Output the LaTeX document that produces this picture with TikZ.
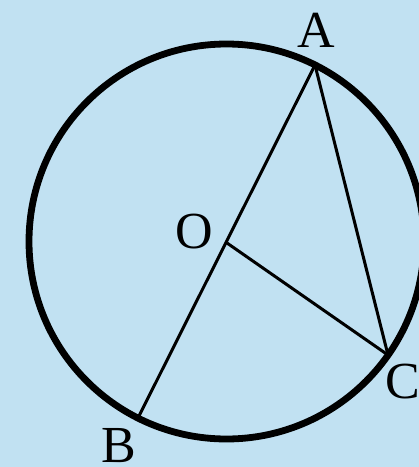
\documentclass[tikz,border=0pt]{standalone}
\usepackage{fontspec}
\setmainfont{Liberation Serif}
\definecolor{bgblue}{RGB}{193,225,242}
\begin{document}
\begin{tikzpicture}[x=1pt,y=-1pt,
  chord/.style={line width=3pt,black},
  rim/.style={line width=6.8pt,black},
  lbl/.style={font=\fontsize{52}{52}\selectfont,inner sep=0pt}]
\fill[bgblue] (0,0) rectangle (419,467);
\useasboundingbox (0,0) rectangle (419,467);
\coordinate (Oc) at (226.5,241.5);
\coordinate (A) at (315,65);
\coordinate (B) at (138,418);
\coordinate (C) at (388,355);
\coordinate (O) at (227,243);
\draw[rim] (Oc) circle[radius=197.5];
\draw[chord] (A) -- (B);
\draw[chord] (A) -- (C);
\draw[chord] (O) -- (C);
\node[lbl] (lA) at (316,30) {A};
\node[lbl] (lO) at (194,232) {O};
\node[lbl] (lB) at (119,446) {B};
\node[lbl,anchor=west] (lC) at (385,382) {C};
\end{tikzpicture}
\end{document}
